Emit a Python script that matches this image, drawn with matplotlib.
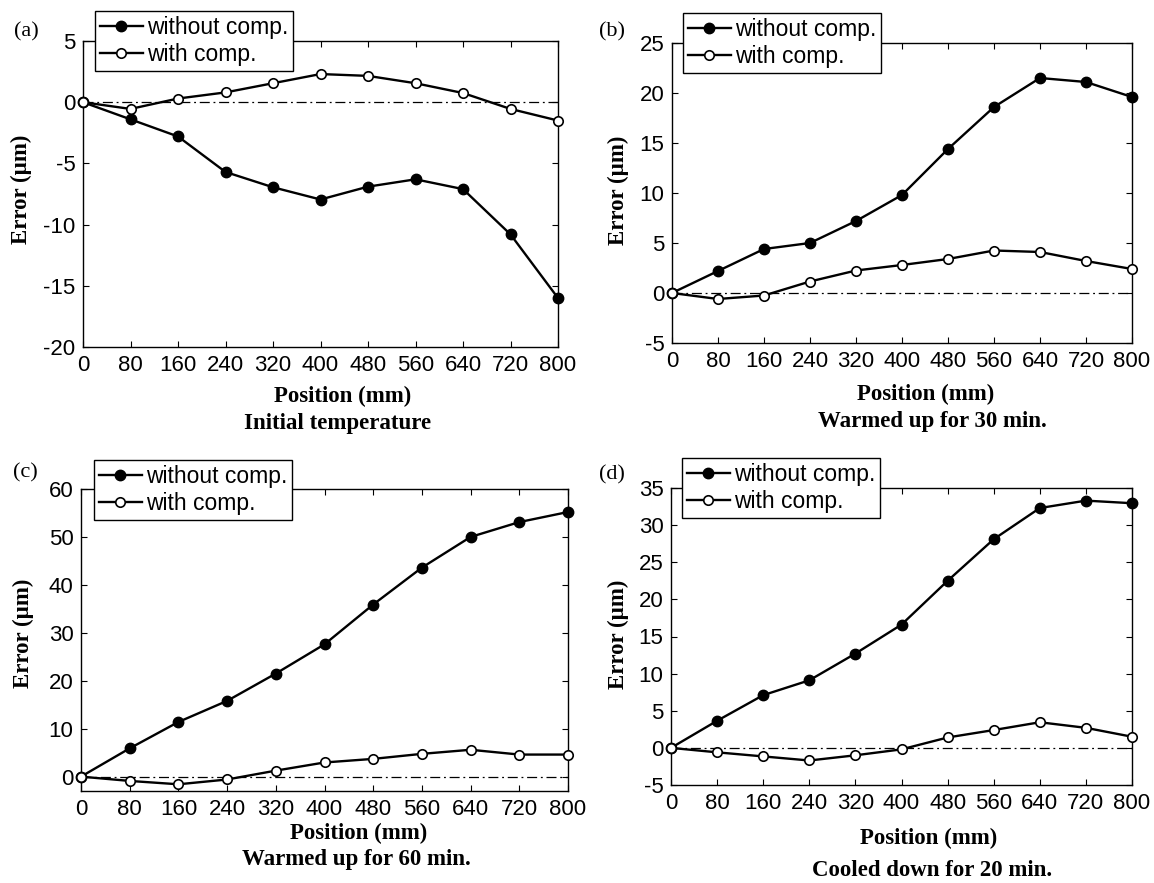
import numpy as np
import matplotlib
matplotlib.use("Agg")
import matplotlib.pyplot as plt

plt.rcParams["axes.unicode_minus"] = False

# positions along the axis (mm)
position = [0, 80, 160, 240, 320, 400, 480, 560, 640, 720, 800]

# error values (um)
a_without = [0, -1.4, -2.8, -5.7, -6.95, -7.95, -6.9, -6.3, -7.1, -10.8, -16.0]
a_with = [0, -0.55, 0.3, 0.8, 1.55, 2.3, 2.15, 1.55, 0.75, -0.55, -1.5]

b_without = [0, 2.2, 4.4, 5.0, 7.2, 9.8, 14.4, 18.6, 21.5, 21.1, 19.6]
b_with = [0, -0.6, -0.25, 1.15, 2.25, 2.8, 3.4, 4.25, 4.1, 3.2, 2.4]

c_without = [0, 5.9, 11.4, 15.8, 21.5, 27.6, 35.9, 43.6, 50.0, 53.1, 55.2]
c_with = [0, -0.9, -1.6, -0.6, 1.25, 2.95, 3.7, 4.75, 5.6, 4.6, 4.6]

d_without = [0, 3.65, 7.1, 9.1, 12.7, 16.6, 22.5, 28.1, 32.3, 33.3, 32.95]
d_with = [0, -0.6, -1.15, -1.7, -1.0, -0.2, 1.4, 2.4, 3.45, 2.7, 1.5]

letters = ["(a)", "(b)", "(c)", "(d)"]
subtitles = ["Initial temperature", "Warmed up for 30 min.",
             "Warmed up for 60 min.", "Cooled down for 20 min."]
ylims = [(-20, 5), (-5, 25), (-3, 60), (-5, 35)]
yticks = [np.arange(-20, 6, 5), np.arange(-5, 26, 5),
          np.arange(0, 61, 10), np.arange(-5, 36, 5)]
series = [(a_without, a_with), (b_without, b_with),
          (c_without, c_with), (d_without, d_with)]

W, H = 1154, 883
# axes boxes in pixels: left, right, top, bottom
boxes = [(83, 558, 41, 347), (672, 1132, 43, 343),
         (81, 568, 489, 791), (671, 1132, 488, 785)]
legend_pos = [(95, 11), (683, 13), (94, 460), (682, 458)]
letter_pos = [(26, 32), (612, 32), (25, 473), (612, 475)]
xlabel_y = [396, 394, 833, 838]
xlabel_x = [343, 926, 359, 929]
sub_y = [423, 422, 860, 871]
sub_x = [338, 932, 356, 932]
ylabel_pos = [(21, 189), (618, 190), (23, 633), (618, 634)]

sans = "Liberation Sans"
serif = "Liberation Serif"

fig = plt.figure(figsize=(W / 100, H / 100), dpi=100)

for i in range(4):
    l, r, t, b = boxes[i]
    ax = fig.add_axes([l / W, 1 - b / H, (r - l) / W, (b - t) / H])
    without, with_c = series[i]
    ax.axhline(0, color="k", lw=0.9, ls=(0, (8, 3, 1.5, 3)), zorder=1)
    ax.plot(position, without, "-o", color="k", lw=1.7, ms=7.5,
            mfc="k", mec="k", label="without comp.", zorder=3)
    ax.plot(position, with_c, "-o", color="k", lw=1.7, ms=6.8,
            mfc="white", mec="k", mew=1.2, label="with comp.", zorder=3)
    ax.set_xlim(0, 800)
    ax.set_ylim(*ylims[i])
    ax.set_xticks(position)
    ax.set_yticks(yticks[i])
    ax.tick_params(direction="in", top=True, right=True, length=4,
                   width=0.8, labelsize=16)
    ax.tick_params(axis="x", pad=6)
    ax.tick_params(axis="y", pad=5.5)
    for lab in ax.get_xticklabels() + ax.get_yticklabels():
        lab.set_fontfamily(sans)
    for sp in ax.spines.values():
        sp.set_linewidth(1.0)
    for ln in ax.lines:
        ln.set_clip_on(False)

    lx, ly = legend_pos[i]
    leg = fig.legend(*ax.get_legend_handles_labels(), loc="upper left",
                     bbox_to_anchor=(lx / W, 1 - ly / H),
                     prop={"family": sans, "size": 16.5},
                     frameon=True, fancybox=False, framealpha=1,
                     edgecolor="k", borderpad=0.2, labelspacing=0.2,
                     handlelength=1.9, handletextpad=0.15, borderaxespad=0)
    leg.get_frame().set_linewidth(1.0)

    x0, y0 = letter_pos[i]
    fig.text(x0 / W, 1 - y0 / H, letters[i], family=serif, fontsize=16,
             ha="center", va="center")
    fig.text(xlabel_x[i] / W, 1 - xlabel_y[i] / H, "Position (mm)",
             family=serif, weight="bold", fontsize=16.5,
             ha="center", va="center")
    fig.text(sub_x[i] / W, 1 - sub_y[i] / H, subtitles[i],
             family=serif, weight="bold", fontsize=16.5,
             ha="center", va="center")
    yx, yy = ylabel_pos[i]
    fig.text(yx / W, 1 - yy / H, "Error (\u00b5m)", family=serif,
             weight="bold", fontsize=16.5, rotation=90,
             ha="center", va="center")

fig.savefig("out.png", dpi=100)
